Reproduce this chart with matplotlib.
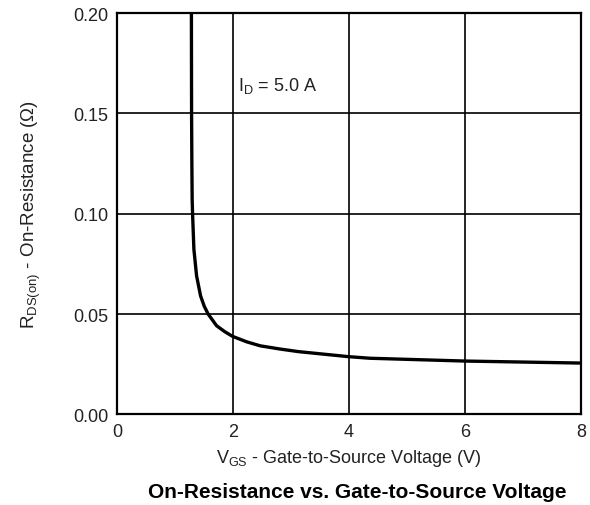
import matplotlib
matplotlib.use("Agg")
import matplotlib.pyplot as plt

plt.rcParams['font.family'] = ['Liberation Sans', 'DejaVu Sans']
plt.rcParams['mathtext.default'] = 'regular'

vgs = [1.285, 1.288, 1.293, 1.298, 1.305, 1.328, 1.374, 1.443, 1.505, 1.574, 1.719, 1.862, 1.995,
       2.236, 2.47, 2.81, 3.13, 3.99, 4.36, 6.0, 8.0]
rds = [0.200, 0.150, 0.125, 0.1072, 0.1001, 0.0823, 0.0691, 0.0591, 0.0540, 0.050, 0.0442, 0.0412, 0.0389,
       0.0362, 0.0342, 0.0326, 0.0313, 0.0288, 0.0280, 0.0266, 0.0256]

xticks = [0, 2, 4, 6, 8]
yticks = [0.00, 0.05, 0.10, 0.15, 0.20]
ytick_labels = ["0.00", "0.05", "0.10", "0.15", "0.20"]

fig = plt.figure(figsize=(5.9, 5.06), dpi=100)
ax = fig.add_axes([0.198, 0.179, 0.787, 0.793])
ax.plot(vgs, rds, color='black', lw=2.4, solid_capstyle='butt', solid_joinstyle='round', zorder=3)
ax.set_xlim(0, 8)
ax.set_ylim(0, 0.20)
ax.set_xticks(xticks)
ax.set_yticks(yticks)
ax.set_yticklabels(ytick_labels)
ax.grid(True, color='black', lw=1.2)
ax.tick_params(length=0, labelsize=13, pad=6, colors='#222222')
for s in ax.spines.values():
    s.set_linewidth(1.6)
ax.text(2.09, 0.1644, r'I$_D$ = 5.0 A', fontsize=13, color='#222222', va='center', ha='left',
        bbox=dict(facecolor='white', edgecolor='none', pad=2), zorder=4)
ax.set_xlabel(r'V$_{GS}$ - Gate-to-Source Voltage (V)', fontsize=13, color='#222222', labelpad=5)
ax.set_ylabel(r'R$_{DS(on)}$ - On-Resistance (Ω)', fontsize=13.5, color='#222222', labelpad=22)
fig.text(0.605, 0.026, 'On-Resistance vs. Gate-to-Source Voltage', fontsize=15, fontweight='bold', ha='center', va='center')
fig.savefig('out.png', dpi=100)
